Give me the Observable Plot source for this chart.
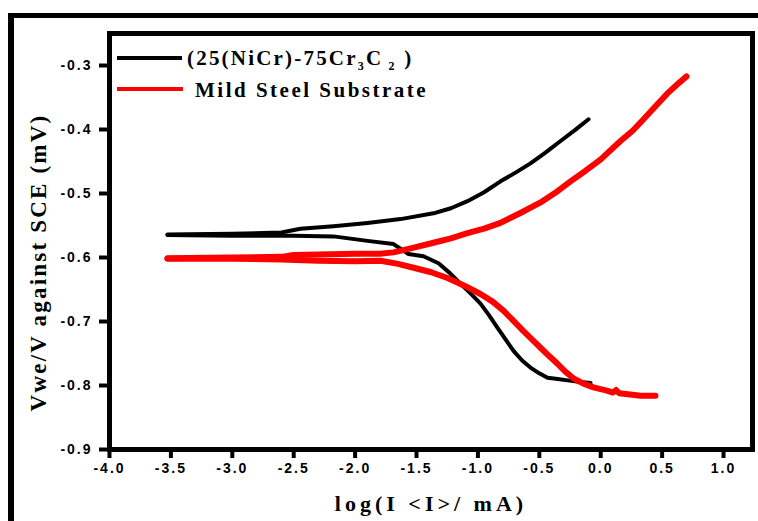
<!DOCTYPE html>
<html><head><meta charset="utf-8">
<script src="https://cdn.jsdelivr.net/npm/d3@7"></script>
<script src="https://cdn.jsdelivr.net/npm/@observablehq/plot@0.6"></script>
<style>
body{margin:0;background:#fff;}
#wrap{position:relative;width:758px;height:521px;overflow:hidden;background:#fff;}
#outer{position:absolute;left:8px;top:13px;width:900px;height:700px;border-top:5px solid #000;border-left:6px solid #000;}
#chart{position:absolute;left:0;top:0;}
.legline{position:absolute;height:4px;}
.legtext{position:absolute;font-family:"Liberation Serif",serif;font-weight:bold;font-size:21px;line-height:21px;white-space:nowrap;color:#000;}
.sub{font-size:12px;position:relative;top:5px;}
svg [aria-label="x-axis tick label"], svg [aria-label="y-axis tick label"]{font-family:"Liberation Sans",Arial,sans-serif;font-weight:bold;font-size:14px;letter-spacing:2px;}
</style>
</head><body>
<div id="wrap">
<div id="outer"></div>
<div id="chart"></div>
<div class="legline" style="left:117px;top:56px;width:65px;background:#000;"></div>
<div class="legtext" style="left:187px;top:48px;letter-spacing:2.2px;">(25(NiCr)-75Cr<span class="sub">3</span>C<span class="sub"> 2</span> )</div>
<div class="legline" style="left:117px;top:87px;width:66px;background:#f00;"></div>
<div class="legtext" style="left:195px;top:80px;letter-spacing:2.5px;">Mild Steel Substrate</div>
</div>
<script>
const xTicks = [-4.0,-3.5,-3.0,-2.5,-2.0,-1.5,-1.0,-0.5,0.0,0.5,1.0];
const yTicks = [-0.9,-0.8,-0.7,-0.6,-0.5,-0.4,-0.3];
const xLabel = "log(I <I>/ mA)";
const yLabel = "Vwe/V against SCE (mV)";

// (25(NiCr)-75Cr3C2) coating
const coatingAnodic = [
  [-3.528,-0.564],[-3.0,-0.563],[-2.6,-0.561],[-2.445,-0.555],[-2.176,-0.551],
  [-1.899,-0.546],[-1.63,-0.540],[-1.362,-0.531],[-1.22,-0.523],[-1.085,-0.512],
  [-0.95,-0.498],[-0.816,-0.481],[-0.69,-0.467],[-0.572,-0.453],[-0.45,-0.436],
  [-0.327,-0.418],[-0.21,-0.401],[-0.099,-0.384]
];
const coatingCathodic = [
  [-3.528,-0.565],[-3.0,-0.566],[-2.5,-0.566],[-2.176,-0.567],[-1.899,-0.574],
  [-1.687,-0.579],[-1.565,-0.5945],[-1.443,-0.598],[-1.321,-0.609],[-1.23,-0.624],
  [-1.142,-0.641],[-1.06,-0.656],[-0.979,-0.672],[-0.91,-0.690],[-0.84,-0.710],
  [-0.775,-0.728],[-0.71,-0.746],[-0.64,-0.761],[-0.572,-0.772],[-0.50,-0.781],
  [-0.433,-0.788],[-0.35,-0.790],[-0.27,-0.792],[-0.18,-0.794],[-0.083,-0.796]
];
// Mild steel substrate
const steelAnodic = [
  [-3.528,-0.601],[-3.0,-0.600],[-2.6,-0.599],[-2.5,-0.596],[-2.2,-0.595],
  [-2.0,-0.594],[-1.8,-0.594],[-1.687,-0.592],[-1.53,-0.585],[-1.362,-0.577],
  [-1.22,-0.570],[-1.085,-0.562],[-0.95,-0.555],[-0.816,-0.546],[-0.65,-0.530],
  [-0.49,-0.514],[-0.37,-0.499],[-0.246,-0.481],[-0.12,-0.464],[-0.002,-0.447],
  [0.161,-0.418],[0.26,-0.402],[0.349,-0.384],[0.45,-0.363],[0.541,-0.344],
  [0.62,-0.330],[0.699,-0.317]
];
const steelCathodic = [
  [-3.528,-0.602],[-3.0,-0.602],[-2.6,-0.603],[-2.3,-0.605],[-2.0,-0.606],
  [-1.793,-0.605],[-1.65,-0.610],[-1.524,-0.616],[-1.38,-0.623],[-1.248,-0.632],
  [-1.11,-0.644],[-0.979,-0.657],[-0.88,-0.669],[-0.792,-0.683],[-0.71,-0.699],
  [-0.629,-0.715],[-0.56,-0.728],[-0.49,-0.741],[-0.42,-0.754],[-0.352,-0.766],
  [-0.29,-0.778],[-0.221,-0.789],[-0.14,-0.797],[-0.059,-0.803],[0.05,-0.808],
  [0.10,-0.811],[0.125,-0.807],[0.15,-0.812],[0.24,-0.814],[0.324,-0.816],[0.446,-0.816]
];

const toRows = (arr, branch) => arr.map(([x, y]) => ({x, y, branch}));
const coatingRows = [...toRows(coatingAnodic, "a"), ...toRows(coatingCathodic, "c")];
const steelRows = [...toRows(steelAnodic, "a"), ...toRows(steelCathodic, "c")];

const fmt = d => d.toFixed(1);

const chart = Plot.plot({
  width: 758,
  height: 521,
  marginLeft: 109,
  marginRight: 6,
  marginTop: 33,
  marginBottom: 72,
  style: {background: "transparent", color: "#000"},
  x: {domain: [-4, 1.236]},
  y: {domain: [-0.9, -0.25]},
  marks: [
    Plot.line(coatingRows, {x: "x", y: "y", z: "branch", stroke: "#000", strokeWidth: 4, strokeLinejoin: "round", strokeLinecap: "round"}),
    Plot.line(steelRows, {x: "x", y: "y", z: "branch", stroke: "#ff0000", strokeWidth: 6, strokeLinejoin: "round", strokeLinecap: "round"}),
    Plot.frame({stroke: "#000", strokeWidth: 5}),
    Plot.axisX(xTicks, {tickSize: 9, tickPadding: 5, strokeWidth: 4, tickFormat: fmt, label: null}),
    Plot.axisY(yTicks, {tickSize: 10, tickPadding: 7, strokeWidth: 4, tickFormat: fmt, label: null}),
    Plot.text([yLabel], {frameAnchor: "left", textAnchor: "middle", lineAnchor: "middle", rotate: -90, dx: -71, dy: 21, fontSize: 23, fontFamily: "Liberation Serif", fontWeight: "bold", fill: "#000"}),
    Plot.text([xLabel], {frameAnchor: "bottom", textAnchor: "middle", lineAnchor: "middle", dy: 54, fontSize: 22, fontFamily: "Liberation Serif", fontWeight: "bold", fill: "#000"})
  ]
});
document.getElementById("chart").appendChild(chart);
d3.select(chart).selectAll("text").filter(function(){ return this.textContent === yLabel; }).style("letter-spacing", "2.2px");
d3.select(chart).selectAll("text").filter(function(){ return this.textContent === xLabel; }).style("letter-spacing", "4px");
</script>
</body></html>
